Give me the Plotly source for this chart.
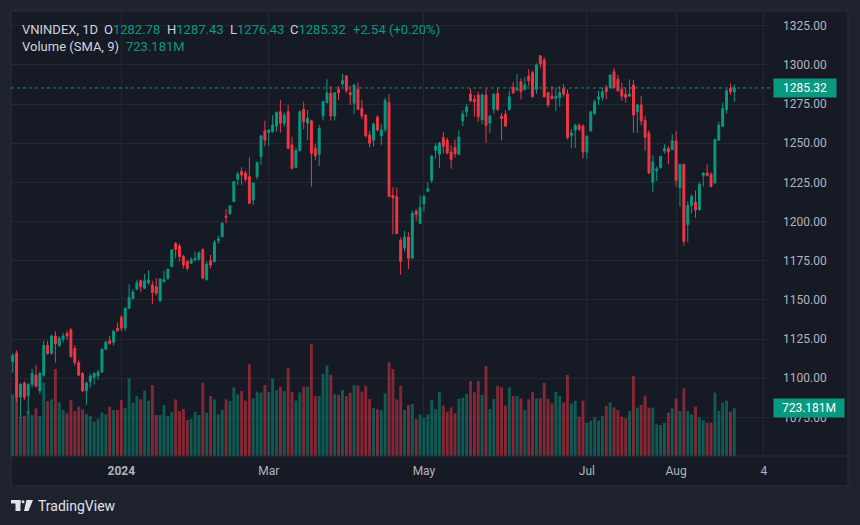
import plotly.graph_objects as go

# ---------------- data ----------------
opens = [1110.6, 1116.2, 1088.0, 1097.0, 1089.0, 1096.0, 1102.0, 1092.0, 1102.0, 1121.0,
         1116.0, 1127.0, 1121.0, 1125.0, 1128.7, 1131.0, 1119.0, 1110.0, 1103.0, 1092.0,
         1098.0, 1100.6, 1101.5, 1104.0, 1118.5, 1124.0, 1123.0, 1132.0, 1139.0, 1132.0,
         1144.7, 1151.0, 1157.0, 1162.3, 1157.4, 1161.0, 1159.6, 1158.5, 1149.6, 1161.7,
         1163.8, 1171.3, 1186.0, 1184.5, 1177.7, 1174.5, 1173.4, 1175.5, 1176.0, 1182.0,
         1163.0, 1175.0, 1174.5, 1188.0, 1190.4, 1203.6, 1205.0, 1212.8, 1227.0, 1232.0,
         1231.0, 1228.7, 1213.8, 1228.7, 1241.5, 1258.0, 1256.8, 1257.4, 1261.0, 1270.2,
         1262.8, 1270.2, 1249.0, 1234.7, 1245.3, 1271.7, 1262.8, 1264.3, 1246.8, 1243.0,
         1267.4, 1276.0, 1282.0, 1267.4, 1284.5, 1287.9, 1293.0, 1282.3, 1275.5, 1284.5,
         1272.3, 1268.0, 1255.3, 1252.0, 1266.6, 1254.7, 1258.9, 1275.9, 1216.7, 1216.0,
         1188.2, 1183.1, 1190.0, 1176.7, 1206.6, 1198.9, 1211.3, 1219.4, 1226.3, 1245.5,
         1243.0, 1253.6, 1252.0, 1244.4, 1247.2, 1243.0, 1264.3, 1270.1, 1281.4, 1278.0,
         1280.8, 1265.2, 1280.8, 1263.0, 1271.6, 1281.8, 1267.3, 1268.6, 1271.6, 1285.7,
         1284.0, 1289.3, 1284.4, 1292.9, 1295.1, 1284.4, 1305.8, 1303.2, 1282.3, 1280.1,
         1278.6, 1279.3, 1285.0, 1281.4, 1255.1, 1258.3, 1261.5, 1260.9, 1244.4, 1257.9,
         1269.0, 1278.0, 1279.3, 1285.7, 1285.7, 1295.7, 1290.8, 1284.4, 1281.4, 1280.1,
         1287.2, 1270.1, 1274.4, 1264.7, 1256.6, 1225.2, 1232.3, 1234.4, 1245.1, 1246.6,
         1245.9, 1251.5, 1221.6, 1236.5, 1198.1, 1210.3, 1212.4, 1207.5, 1229.5, 1231.0,
         1230.1, 1224.6, 1251.9, 1260.9, 1271.6, 1285.0, 1282.78]

highs = [1116.0, 1118.0, 1097.0, 1098.0, 1097.0, 1106.0, 1108.5, 1104.0, 1124.0, 1124.0,
         1128.0, 1130.0, 1127.0, 1129.0, 1130.5, 1132.0, 1121.0, 1111.5, 1104.0, 1098.0,
         1103.0, 1104.0, 1105.6, 1119.0, 1124.0, 1127.0, 1131.0, 1135.5, 1140.5, 1145.3,
         1160.0, 1157.0, 1163.0, 1163.0, 1166.6, 1169.0, 1162.3, 1164.0, 1163.6, 1168.7,
         1170.0, 1182.3, 1187.0, 1186.0, 1178.7, 1175.5, 1177.2, 1181.0, 1181.0, 1183.0,
         1174.5, 1178.7, 1188.3, 1191.0, 1199.4, 1208.0, 1210.6, 1226.0, 1232.0, 1234.7,
         1232.5, 1241.0, 1225.0, 1238.3, 1255.3, 1264.5, 1259.0, 1268.0, 1270.2, 1277.7,
         1269.6, 1274.5, 1254.3, 1247.4, 1270.9, 1276.6, 1271.3, 1265.0, 1249.6, 1261.7,
         1277.2, 1290.9, 1286.6, 1282.3, 1286.6, 1294.3, 1293.6, 1286.6, 1287.9, 1288.7,
         1277.7, 1268.7, 1258.0, 1263.2, 1268.0, 1262.3, 1279.0, 1281.4, 1222.0, 1221.6,
         1190.0, 1194.2, 1193.2, 1207.0, 1208.1, 1216.7, 1217.3, 1225.2, 1242.3, 1250.2,
         1250.9, 1257.3, 1253.6, 1248.7, 1252.4, 1258.3, 1271.2, 1275.0, 1285.0, 1280.8,
         1282.9, 1281.8, 1285.0, 1268.0, 1281.8, 1285.7, 1269.4, 1271.2, 1283.5, 1289.3,
         1294.2, 1291.5, 1292.5, 1297.2, 1296.4, 1301.0, 1306.4, 1304.9, 1282.9, 1286.5,
         1285.7, 1286.5, 1287.8, 1284.4, 1259.0, 1262.6, 1262.6, 1262.2, 1255.1, 1270.7,
         1278.0, 1283.5, 1285.7, 1287.2, 1294.2, 1297.9, 1293.6, 1288.7, 1285.7, 1290.8,
         1290.4, 1275.4, 1280.1, 1267.3, 1258.3, 1242.3, 1235.3, 1241.7, 1249.4, 1248.1,
         1255.8, 1257.9, 1236.5, 1237.0, 1213.0, 1217.3, 1219.9, 1225.2, 1231.6, 1236.5,
         1231.6, 1253.0, 1263.7, 1275.9, 1284.4, 1288.2, 1287.43]

lows = [1103.6, 1085.0, 1075.0, 1086.0, 1077.0, 1094.0, 1094.0, 1090.0, 1101.0, 1115.0,
        1115.0, 1110.0, 1120.0, 1123.0, 1124.5, 1113.0, 1108.0, 1101.5, 1091.0, 1083.0,
        1094.0, 1096.0, 1099.0, 1103.5, 1118.0, 1121.5, 1121.0, 1129.8, 1130.0, 1130.0,
        1144.0, 1150.0, 1156.0, 1155.0, 1157.0, 1159.6, 1147.4, 1153.0, 1148.3, 1161.0,
        1162.8, 1171.0, 1176.6, 1174.5, 1170.0, 1168.7, 1173.0, 1174.5, 1175.0, 1163.2,
        1162.3, 1170.2, 1173.8, 1186.0, 1190.0, 1199.0, 1204.3, 1212.6, 1223.4, 1223.4,
        1225.5, 1211.3, 1210.6, 1227.0, 1236.2, 1248.0, 1248.3, 1256.8, 1257.4, 1256.8,
        1260.6, 1246.2, 1233.4, 1234.0, 1244.7, 1259.0, 1252.0, 1222.3, 1239.4, 1235.5,
        1264.5, 1275.5, 1264.5, 1264.5, 1277.7, 1286.2, 1282.0, 1274.5, 1268.7, 1271.3,
        1265.3, 1253.8, 1247.4, 1247.9, 1257.4, 1249.0, 1257.0, 1215.6, 1192.0, 1192.1,
        1166.0, 1181.0, 1169.7, 1176.5, 1200.6, 1198.5, 1206.6, 1218.8, 1224.6, 1240.2,
        1234.4, 1243.4, 1243.0, 1233.8, 1240.8, 1242.3, 1260.9, 1266.9, 1276.5, 1266.9,
        1263.7, 1262.2, 1250.2, 1256.6, 1269.0, 1270.7, 1251.9, 1260.5, 1270.7, 1281.4,
        1283.5, 1278.0, 1283.5, 1286.5, 1279.3, 1281.4, 1297.9, 1279.3, 1272.9, 1278.0,
        1270.7, 1273.3, 1279.7, 1252.4, 1247.0, 1247.2, 1257.9, 1240.2, 1240.2, 1257.9,
        1268.0, 1274.4, 1277.1, 1278.0, 1284.4, 1285.0, 1282.9, 1277.1, 1275.9, 1279.7,
        1256.6, 1256.6, 1261.5, 1245.1, 1230.6, 1218.8, 1225.9, 1233.8, 1243.4, 1236.5,
        1245.9, 1222.4, 1209.6, 1184.6, 1186.8, 1205.3, 1202.4, 1207.1, 1222.4, 1228.8,
        1222.0, 1224.6, 1251.9, 1260.9, 1269.0, 1280.8, 1276.43]

closes = [1114.5, 1088.0, 1096.0, 1088.0, 1096.0, 1103.0, 1095.0, 1103.0, 1121.0, 1116.0,
          1127.0, 1122.0, 1125.5, 1127.0, 1127.0, 1114.0, 1110.0, 1102.0, 1092.0, 1097.0,
          1101.5, 1103.0, 1104.0, 1118.5, 1123.0, 1122.3, 1130.0, 1130.4, 1132.0, 1144.7,
          1151.5, 1155.0, 1161.0, 1158.5, 1162.3, 1162.8, 1154.7, 1154.3, 1163.4, 1163.0,
          1169.6, 1182.0, 1182.3, 1177.7, 1172.3, 1170.2, 1176.0, 1176.5, 1180.0, 1164.0,
          1173.0, 1172.3, 1186.6, 1189.0, 1199.0, 1202.8, 1210.0, 1225.5, 1230.4, 1229.8,
          1227.0, 1211.7, 1224.5, 1237.7, 1254.7, 1252.0, 1258.5, 1261.7, 1269.6, 1262.8,
          1268.0, 1246.8, 1234.0, 1245.3, 1270.2, 1263.8, 1266.0, 1243.6, 1242.0, 1259.6,
          1276.6, 1282.0, 1267.4, 1282.3, 1282.3, 1290.0, 1283.6, 1281.0, 1287.2, 1271.7,
          1267.4, 1254.7, 1250.0, 1262.3, 1258.5, 1258.5, 1277.2, 1216.0, 1215.2, 1192.5,
          1174.6, 1190.0, 1176.7, 1205.3, 1204.5, 1209.2, 1216.0, 1221.0, 1241.7, 1248.1,
          1250.2, 1248.1, 1243.8, 1239.5, 1243.4, 1254.0, 1268.6, 1273.3, 1277.1, 1276.5,
          1266.9, 1280.8, 1261.5, 1267.3, 1281.4, 1271.6, 1265.8, 1260.9, 1279.7, 1282.3,
          1285.0, 1282.9, 1287.2, 1290.0, 1279.7, 1300.0, 1300.6, 1279.7, 1274.4, 1278.6,
          1280.1, 1282.3, 1281.4, 1253.6, 1256.6, 1261.5, 1258.8, 1244.4, 1254.5, 1270.1,
          1276.5, 1279.7, 1282.9, 1282.9, 1293.6, 1285.7, 1283.5, 1280.1, 1279.3, 1281.4,
          1268.0, 1274.4, 1264.3, 1254.0, 1231.0, 1238.0, 1233.8, 1241.7, 1246.6, 1244.4,
          1251.5, 1226.3, 1236.5, 1187.4, 1210.3, 1216.0, 1207.5, 1223.7, 1231.0, 1229.5,
          1222.4, 1252.4, 1261.5, 1272.2, 1283.5, 1282.78, 1285.32]

# volume in millions of shares
volumes = [935, 914, 596, 606, 682, 621, 723, 606, 1111, 834,
           859, 1319, 814, 697, 647, 849, 682, 748, 707, 637,
           606, 520, 561, 657, 632, 748, 697, 697, 849, 723,
           1178, 808, 910, 859, 990, 838, 1076, 621, 621, 773,
           606, 662, 859, 682, 712, 546, 561, 672, 621, 1112,
           657, 910, 859, 632, 697, 859, 834, 1041, 935, 985,
           839, 1390, 874, 975, 960, 1076, 965, 1178, 1001, 1051,
           985, 1329, 975, 839, 965, 1051, 1051, 1693, 910, 910,
           1243, 1375, 1228, 935, 925, 1001, 910, 960, 1076, 1066,
           975, 1066, 864, 723, 708, 697, 950, 1420, 1319, 859,
           1066, 697, 773, 788, 561, 632, 581, 632, 849, 712,
           975, 763, 672, 738, 647, 864, 884, 940, 1137, 965,
           1137, 925, 1364, 712, 864, 1061, 1041, 763, 1041, 910,
           910, 874, 697, 859, 975, 874, 874, 1112, 864, 798,
           975, 910, 813, 1228, 798, 839, 596, 839, 505, 536,
           586, 536, 611, 758, 813, 738, 697, 596, 571, 682,
           1213, 733, 773, 915, 733, 733, 480, 470, 505, 657,
           723, 874, 682, 1026, 682, 632, 748, 586, 546, 505,
           505, 960, 682, 813, 839, 672, 723.181]

symbol = "VNINDEX, 1D"
volume_title = "Volume (SMA, 9)"
time_tick_pos = [28, 66, 106, 148, 171, 193.6]
time_tick_text = ["<b>2024</b>", "Mar", "May", "Jul", "Aug", "4"]
price_ticks = [1075, 1100, 1125, 1150, 1175, 1200, 1225, 1250, 1275, 1300, 1325]

# ---------------- styling ----------------
UP = "#089981"
DOWN = "#f23645"
UP_VOL = "rgba(8,153,129,0.5)"
DOWN_VOL = "rgba(242,54,69,0.5)"
BG = "#161a25"
OUTER = "#1e222d"
GRID = "#232733"
TEXT = "#d1d4dc"
AXIS_TEXT = "#b2b5be"
FONT = "Roboto"

W, H = 860, 525
L, R, T, B = 11, 90, 12, 69
PW = W - L - R
PH = H - T - B


def px_x(px):
    return (px - L) / PW


def px_y(py):
    return (H - B - py) / PH


x = list(range(len(closes)))
vol_colors = [UP_VOL if c >= o else DOWN_VOL for o, c in zip(opens, closes)]

fig = go.Figure()
fig.add_trace(go.Bar(x=x, y=volumes, marker=dict(color=vol_colors, line=dict(width=0)),
                     yaxis="y", showlegend=False, hoverinfo="skip"))
fig.add_trace(go.Candlestick(
    x=x, open=opens, high=highs, low=lows, close=closes, yaxis="y2",
    increasing=dict(line=dict(color=UP, width=1), fillcolor=UP),
    decreasing=dict(line=dict(color=DOWN, width=1), fillcolor=DOWN),
    whiskerwidth=0, showlegend=False))

last_o, last_h, last_l, last_c = opens[-1], highs[-1], lows[-1], closes[-1]
chg = last_c - closes[-2]
pct = chg / closes[-2] * 100
sign = "+" if chg >= 0 else ""
last_col = UP if last_c >= last_o else DOWN

annotations = []


def legend_item(text, px, py, size=13):
    annotations.append(dict(text=text, xref="paper", yref="paper", x=px_x(px), y=px_y(py),
                            xanchor="left", yanchor="middle", showarrow=False,
                            font=dict(family=FONT, size=size, color=TEXT)))


def val(label, v):
    return f"{label}<span style='color:{last_col}'>{v}</span>"


legend_item(symbol, 19.5, 29)
legend_item(val("O", f"{last_o:.2f}"), 101.5, 29)
legend_item(val("H", f"{last_h:.2f}"), 165, 29)
legend_item(val("L", f"{last_l:.2f}"), 227.5, 29)
legend_item(val("C", f"{last_c:.2f}"), 287.5, 29)
legend_item(f"<span style='color:{last_col}'>{sign}{chg:.2f} ({sign}{pct:.2f}%)</span>", 351, 29)
legend_item(volume_title, 19.5, 46.5)
legend_item(f"<span style='color:{last_col}'>{volumes[-1]:.3f}M</span>", 123.5, 46.5)

# price label & volume label on the right scale
annotations.append(dict(text=f"{last_c:.2f}", xref="paper", yref="y2", x=px_x(773), y=last_c,
                        xanchor="left", yanchor="middle", showarrow=False, bgcolor=last_col,
                        width=60, height=16, align="center",
                        font=dict(family=FONT, size=12, color="#ffffff")))
annotations.append(dict(text=f"{volumes[-1]:.3f}M", xref="paper", yref="y", x=px_x(773), y=volumes[-1],
                        xanchor="left", yanchor="middle", showarrow=False, bgcolor=last_col,
                        width=68, height=16, align="center",
                        font=dict(family=FONT, size=12, color="#ffffff")))
# TradingView wordmark
annotations.append(dict(text="TradingView", xref="paper", yref="paper", x=px_x(36), y=px_y(506),
                        xanchor="left", yanchor="middle", showarrow=False,
                        font=dict(family=FONT, size=14, color="#e0e3eb")))

shapes = [
    # chart frame
    dict(type="rect", xref="paper", yref="paper", x0=px_x(11), x1=px_x(848), y0=px_y(486), y1=px_y(11),
         fillcolor=BG, line=dict(color="#2a2e39", width=1), layer="below"),
    # separator between panes and time scale
    dict(type="line", xref="paper", yref="paper", x0=px_x(11), x1=px_x(848), y0=px_y(456), y1=px_y(456),
         line=dict(color="#2a2e39", width=1)),
    # last price dotted line
    dict(type="line", xref="paper", yref="y2", x0=0, x1=1, y0=last_c, y1=last_c,
         line=dict(color=last_col, width=1, dash="dot")),
    # logo
    dict(type="rect", xref="paper", yref="paper", x0=px_x(11), x1=px_x(20.5), y0=px_y(503.5), y1=px_y(500),
         fillcolor="#e0e3eb", line=dict(width=0)),
    dict(type="rect", xref="paper", yref="paper", x0=px_x(15.5), x1=px_x(20.5), y0=px_y(511), y1=px_y(500),
         fillcolor="#e0e3eb", line=dict(width=0)),
    dict(type="circle", xref="paper", yref="paper", x0=px_x(21.5), x1=px_x(24.5), y0=px_y(503.2), y1=px_y(500.2),
         fillcolor="#e0e3eb", line=dict(width=0)),
    dict(type="path", xref="paper", yref="paper",
         path=f"M {px_x(26.5)},{px_y(500)} L {px_x(33)},{px_y(500)} L {px_x(28.5)},{px_y(511)} L {px_x(24)},{px_y(511)} Z",
         fillcolor="#e0e3eb", line=dict(width=0)),
]

fig.update_layout(
    width=W, height=H,
    margin=dict(l=L, r=R, t=T, b=B, pad=0),
    paper_bgcolor=OUTER, plot_bgcolor=BG,
    font=dict(family=FONT, color=AXIS_TEXT, size=12),
    bargap=0.25, boxgap=0.3,
    showlegend=False,
    xaxis=dict(range=[-0.44, 195.2], tickmode="array", tickvals=time_tick_pos, ticktext=time_tick_text,
               showgrid=True, gridcolor=GRID, gridwidth=1, zeroline=False, showline=False,
               ticks="", ticklabelstandoff=6, tickfont=dict(family=FONT, size=12, color=AXIS_TEXT),
               rangeslider=dict(visible=False)),
    yaxis=dict(range=[0, 6731], visible=False, showgrid=False, zeroline=False),
    yaxis2=dict(overlaying="y", side="right", range=[1050.4, 1333.8], tickmode="array",
                tickvals=price_ticks, ticktext=[f"{v:.2f}" for v in price_ticks],
                showgrid=True, gridcolor=GRID, gridwidth=1, zeroline=False, showline=False,
                ticks="", ticklabelstandoff=12, tickfont=dict(family=FONT, size=12, color=AXIS_TEXT)),
    annotations=annotations,
    shapes=shapes,
)

page_fix = ("document.body.style.margin='0';document.body.style.padding='0';"
            "document.body.style.overflow='hidden';document.body.style.background='" + OUTER + "';")
fig.write_html("out.html", post_script=page_fix, config={"displayModeBar": False})
